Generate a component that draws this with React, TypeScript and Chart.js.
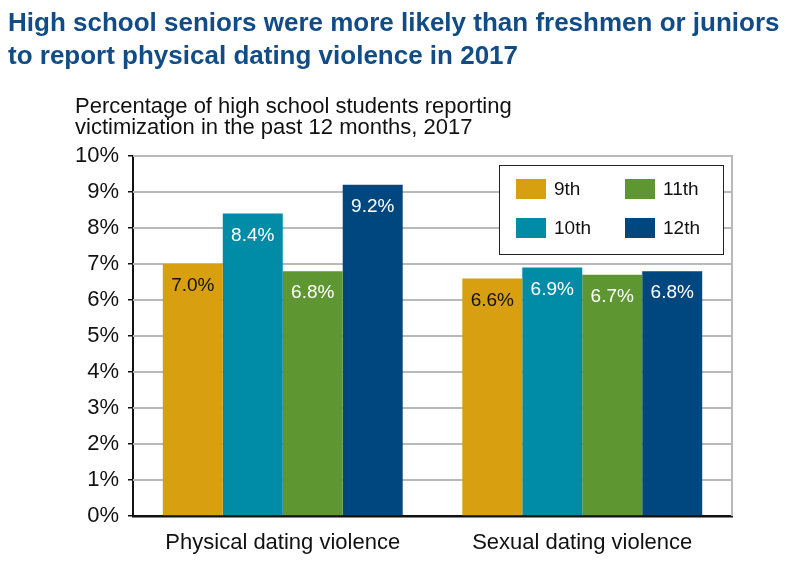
import React, { useEffect, useRef } from "react";
import { Chart, registerables } from "chart.js";

Chart.register(...registerables);

const categories = ["Physical dating violence", "Sexual dating violence"];
const grades = ["9th", "10th", "11th", "12th"];
const grade9 = [7.0, 6.6];
const grade10 = [8.4, 6.9];
const grade11 = [6.8, 6.7];
const grade12 = [9.2, 6.8];
const yTicks = [0, 1, 2, 3, 4, 5, 6, 7, 8, 9, 10];
const seriesColors = ["#D89F11", "#008BA7", "#5E9732", "#00467F"];
const labelColors = ["#111111", "#ffffff", "#ffffff", "#ffffff"];

const FONT = "'Liberation Sans', Arial, Helvetica, sans-serif";

const gridPlugin = {
  id: "gridPlugin",
  beforeDatasetsDraw(chart: any) {
    const ctx = chart.ctx;
    const a = chart.chartArea;
    const y = chart.scales.y;
    ctx.save();
    ctx.strokeStyle = "#b9b9b9";
    ctx.lineWidth = 2;
    yTicks.forEach((v) => {
      if (v === 0) return;
      const py = Math.round(y.getPixelForValue(v));
      ctx.beginPath();
      ctx.moveTo(a.left, py);
      ctx.lineTo(a.right, py);
      ctx.stroke();
    });
    ctx.beginPath();
    ctx.moveTo(a.right, a.top - 1);
    ctx.lineTo(a.right, a.bottom);
    ctx.stroke();
    ctx.restore();
  },
};

const valueLabels = {
  id: "valueLabels",
  afterDatasetsDraw(chart: any) {
    const ctx = chart.ctx;
    ctx.save();
    ctx.font = `19px ${FONT}`;
    ctx.textAlign = "center";
    ctx.textBaseline = "middle";
    chart.data.datasets.forEach((ds: any, i: number) => {
      const meta = chart.getDatasetMeta(i);
      meta.data.forEach((bar: any, j: number) => {
        ctx.fillStyle = labelColors[i];
        ctx.fillText(ds.data[j].toFixed(1) + "%", bar.x, bar.y + 22);
      });
    });
    ctx.restore();
  },
};

const legendBox = {
  id: "legendBox",
  afterDraw(chart: any) {
    const ctx = chart.ctx;
    ctx.save();
    const lx = 499, ly = 165, lw = 224, lh = 89;
    ctx.fillStyle = "#ffffff";
    ctx.fillRect(lx, ly, lw, lh);
    ctx.strokeStyle = "#222222";
    ctx.lineWidth = 1;
    ctx.strokeRect(lx + 0.5, ly + 0.5, lw, lh);
    const order = [0, 2, 1, 3];
    ctx.font = `19px ${FONT}`;
    ctx.textBaseline = "middle";
    ctx.textAlign = "left";
    order.forEach((dsIndex, k) => {
      const col = k % 2;
      const row = Math.floor(k / 2);
      const x = lx + 17 + col * 109;
      const y = ly + 14 + row * 39;
      ctx.fillStyle = seriesColors[dsIndex];
      ctx.fillRect(x, y, 30, 20);
      ctx.fillStyle = "#111111";
      ctx.fillText(chart.data.datasets[dsIndex].label, x + 38, y + 11);
    });
    ctx.restore();
  },
};

export default function App() {
  const ref = useRef<HTMLCanvasElement>(null);
  useEffect(() => {
    if (!ref.current) return;
    const seriesData = [grade9, grade10, grade11, grade12];
    const chart = new Chart(ref.current, {
      type: "bar",
      data: {
        labels: categories,
        datasets: grades.map((g, i) => ({
          label: g,
          data: seriesData[i],
          backgroundColor: seriesColors[i],
          borderWidth: 0,
          categoryPercentage: 0.801,
          barPercentage: 1.0,
        })),
      },
      options: {
        animation: false,
        responsive: false,
        maintainAspectRatio: false,
        layout: { padding: { left: 0, top: 156, right: 78, bottom: 0 } },
        plugins: {
          legend: { display: false },
          tooltip: { enabled: false },
          title: { display: false },
        },
        scales: {
          x: {
            grid: { display: false },
            border: { color: "#111111", width: 2.5 },
            ticks: {
              color: "#111111",
              font: { family: FONT, size: 22 },
              padding: 6,
            },
            afterFit(scale: any) {
              scale.height = 62;
            },
          },
          y: {
            min: 0,
            max: 10,
            afterBuildTicks(scale: any) {
              scale.ticks = yTicks.map((v) => ({ value: v }));
            },
            ticks: {
              color: "#111111",
              font: { family: FONT, size: 22 },
              padding: 9,
              callback: (v: any) => v + "%",
            },
            grid: {
              drawOnChartArea: false,
              color: "#111111",
              tickColor: "#111111",
              tickLength: 5,
              lineWidth: 1.5,
            },
            border: { color: "#111111", width: 2 },
            afterFit(scale: any) {
              scale.width = 133;
            },
          },
        },
      },
      plugins: [gridPlugin, valueLabels, legendBox],
    });
    return () => chart.destroy();
  }, []);

  return (
    <div style={{ position: "fixed", left: 0, top: 0, width: 810, height: 578, background: "#fff", overflow: "hidden" }}>
      <canvas ref={ref} width={810} height={578} style={{ position: "absolute", left: 0, top: 0 }} />
      <div
        style={{
          position: "absolute",
          left: 8,
          top: 6,
          fontFamily: FONT,
          fontWeight: "bold",
          fontSize: 26,
          lineHeight: "33px",
          color: "#114C86",
          whiteSpace: "nowrap",
        }}
      >
        High school seniors were more likely than freshmen or juniors
        <br />
        to report physical dating violence in 2017
      </div>
      <div
        style={{
          position: "absolute",
          left: 75,
          top: 95,
          fontFamily: FONT,
          fontSize: 22,
          lineHeight: "21px",
          color: "#111111",
          whiteSpace: "nowrap",
        }}
      >
        Percentage of high school students reporting
        <br />
        victimization in the past 12 months, 2017
      </div>
    </div>
  );
}
